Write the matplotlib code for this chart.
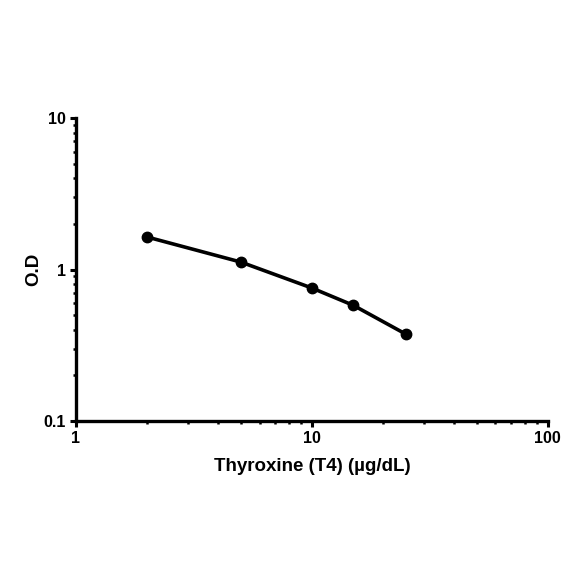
import matplotlib
matplotlib.use("Agg")
import matplotlib.pyplot as plt
from matplotlib.ticker import LogLocator, FixedLocator, NullFormatter

plt.rcParams["font.family"] = ["Liberation Sans", "DejaVu Sans"]
plt.rcParams["font.weight"] = "bold"

conc = [2, 5, 10, 15, 25]
od = [1.64, 1.12, 0.755, 0.58, 0.375]

fig = plt.figure(figsize=(5.84, 5.84), dpi=100)
ax = fig.add_axes([0.130, 0.279, 0.808, 0.519])

ax.plot(conc, od, color="black", linewidth=2.6, marker="o", markersize=7.5)

ax.set_xscale("log")
ax.set_yscale("log")
ax.set_xlim(1, 100)
ax.set_ylim(0.1, 10)

ax.xaxis.set_major_locator(FixedLocator([1, 10, 100]))
ax.yaxis.set_major_locator(FixedLocator([0.1, 1, 10]))
ax.set_xticklabels(["1", "10", "100"])
ax.set_yticklabels(["0.1", "1", "10"])
ax.xaxis.set_minor_locator(LogLocator(base=10, subs=range(2, 10)))
ax.yaxis.set_minor_locator(LogLocator(base=10, subs=range(2, 10)))
ax.xaxis.set_minor_formatter(NullFormatter())
ax.yaxis.set_minor_formatter(NullFormatter())

for side in ["top", "right"]:
    ax.spines[side].set_visible(False)
for side in ["left", "bottom"]:
    ax.spines[side].set_linewidth(2.4)

ax.tick_params(which="major", direction="out", length=4, width=2.2, labelsize=11.5, pad=3)
ax.tick_params(which="minor", direction="out", length=2.5, width=1.8)

ax.set_xlabel("Thyroxine (T4) (\u00b5g/dL)", fontsize=13.5, fontweight="bold", labelpad=9)
ax.set_ylabel("O.D", fontsize=13.5, fontweight="bold", labelpad=1)

fig.savefig("out.png", dpi=100)
